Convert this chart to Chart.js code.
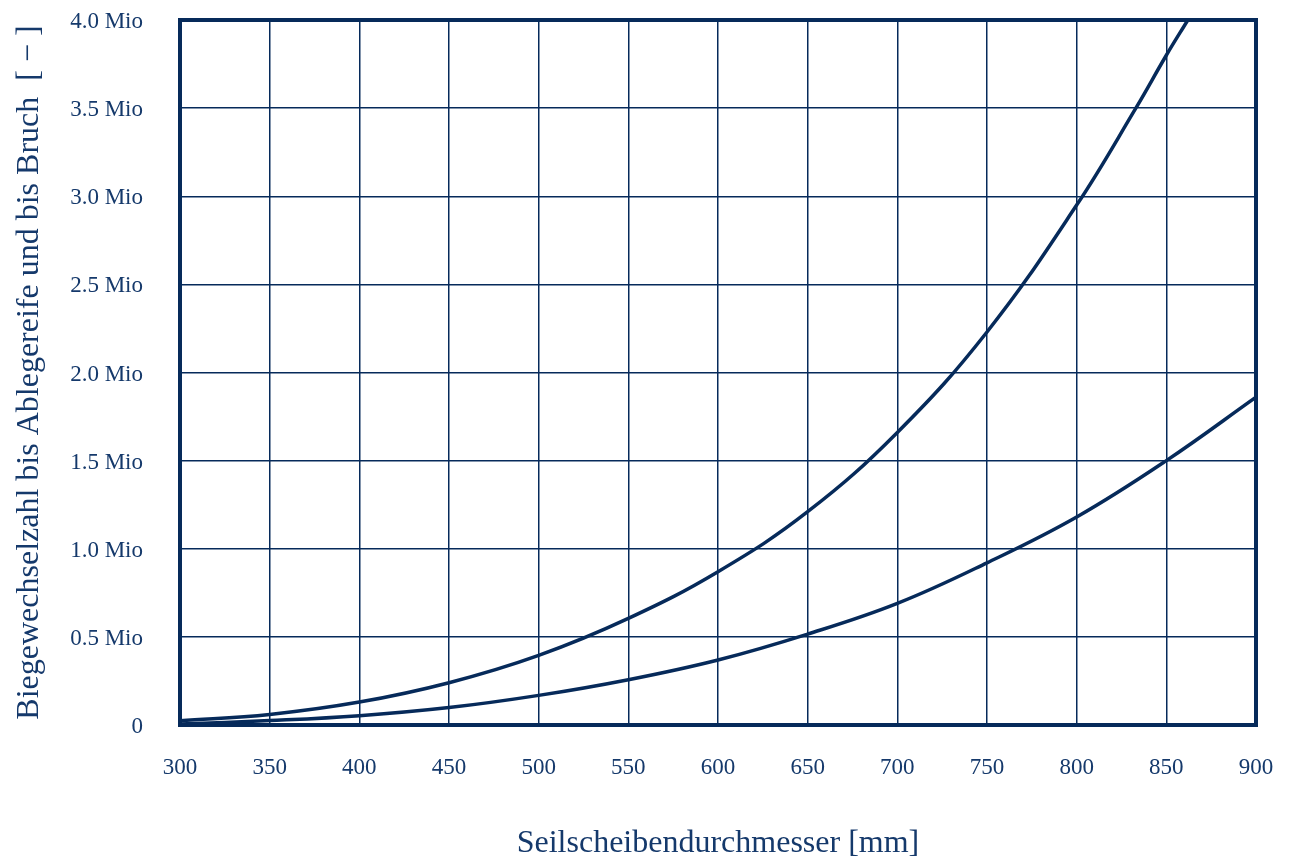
<!DOCTYPE html>
<html>
<head>
<meta charset="utf-8">
<script src="https://cdn.jsdelivr.net/npm/chart.js@4/dist/chart.umd.min.js"></script>
<style>
  html, body { margin: 0; padding: 0; background: #ffffff; }
  #wrap { width: 1289px; height: 860px; position: relative; }
</style>
</head>
<body>
<div id="wrap"><canvas id="chart" width="1289" height="860"></canvas></div>
<script>
// Seilscheibendurchmesser [mm]
const bruchDiameters = [300, 350, 400, 450, 500, 550, 600, 650, 700, 750, 800, 833, 850, 862];
// Biegewechselzahl bis Bruch [Mio]
const bruchMio = [0.024, 0.06, 0.13, 0.24, 0.395, 0.605, 0.87, 1.21, 1.66, 2.23, 2.95, 3.50, 3.80, 4.00];

const ablegeDiameters = [300, 350, 400, 450, 500, 550, 600, 650, 700, 750, 800, 850, 900];
// Biegewechselzahl bis Ablegereife [Mio]
const ablegeMio = [0.005, 0.025, 0.053, 0.099, 0.168, 0.257, 0.369, 0.516, 0.69, 0.92, 1.18, 1.50, 1.86];

const xTickLabels = ['300', '350', '400', '450', '500', '550', '600', '650', '700', '750', '800', '850', '900'];
const yTickLabels = ['0', '0.5 Mio', '1.0 Mio', '1.5 Mio', '2.0 Mio', '2.5 Mio', '3.0 Mio', '3.5 Mio', '4.0 Mio'];

const NAVY = '#062a5a';
const TEXT = '#15396b';
const FONT = '"Liberation Serif", "Times New Roman", serif';

const toPoints = (xs, ys) => xs.map((x, i) => ({ x: x, y: ys[i] }));

// frame around the plot area
const framePlugin = {
  id: 'frame',
  beforeDatasetsDraw(chart) {
    const { ctx, chartArea: a } = chart;
    ctx.save();
    ctx.strokeStyle = NAVY;
    ctx.lineWidth = 4;
    ctx.strokeRect(a.left, a.top, a.right - a.left, a.bottom - a.top);
    ctx.restore();
  }
};

new Chart(document.getElementById('chart'), {
  type: 'line',
  data: {
    datasets: [
      {
        label: 'bis Bruch',
        data: toPoints(bruchDiameters, bruchMio),
        borderColor: NAVY,
        borderWidth: 3.5,
        pointRadius: 0,
        fill: false,
        tension: 0.4
      },
      {
        label: 'bis Ablegereife',
        data: toPoints(ablegeDiameters, ablegeMio),
        borderColor: NAVY,
        borderWidth: 3.5,
        pointRadius: 0,
        fill: false,
        tension: 0.4
      }
    ]
  },
  options: {
    responsive: false,
    animation: false,
    devicePixelRatio: 1,
    layout: { padding: { left: 0, top: 20, right: 33, bottom: 0 } },
    plugins: {
      legend: { display: false },
      tooltip: { enabled: false }
    },
    scales: {
      x: {
        type: 'linear',
        min: 300,
        max: 900,
        ticks: {
          stepSize: 50,
          color: TEXT,
          padding: 29,
          maxRotation: 0,
          font: { family: FONT, size: 23 },
          callback: (v) => xTickLabels[Math.round((v - 300) / 50)]
        },
        grid: { color: NAVY, lineWidth: 1.5, drawTicks: false },
        border: { display: false },
        title: {
          display: true,
          text: 'Seilscheibendurchmesser [mm]',
          color: TEXT,
          font: { family: FONT, size: 32, lineHeight: 1.0 },
          padding: { top: 0, bottom: 0 }
        },
        afterFit: (s) => { s.height = 135; s.paddingLeft = 0; s.paddingRight = 0; }
      },
      y: {
        min: 0,
        max: 4,
        ticks: {
          stepSize: 0.5,
          color: TEXT,
          padding: 37,
          labelOffset: 2,
          font: { family: FONT, size: 23 },
          callback: (v) => yTickLabels[Math.round(v / 0.5)]
        },
        grid: { color: NAVY, lineWidth: 1.5, drawTicks: false },
        border: { display: false },
        title: {
          display: true,
          text: 'Biegewechselzahl bis Ablegereife und bis Bruch  [ \u2212 ]',
          color: TEXT,
          font: { family: FONT, size: 32, lineHeight: 1.1 },
          padding: { top: 12, bottom: 12 }
        },
        afterFit: (s) => { s.width = 180; s.paddingTop = 0; s.paddingBottom = 0; }
      }
    }
  },
  plugins: [framePlugin]
});
</script>
</body>
</html>
